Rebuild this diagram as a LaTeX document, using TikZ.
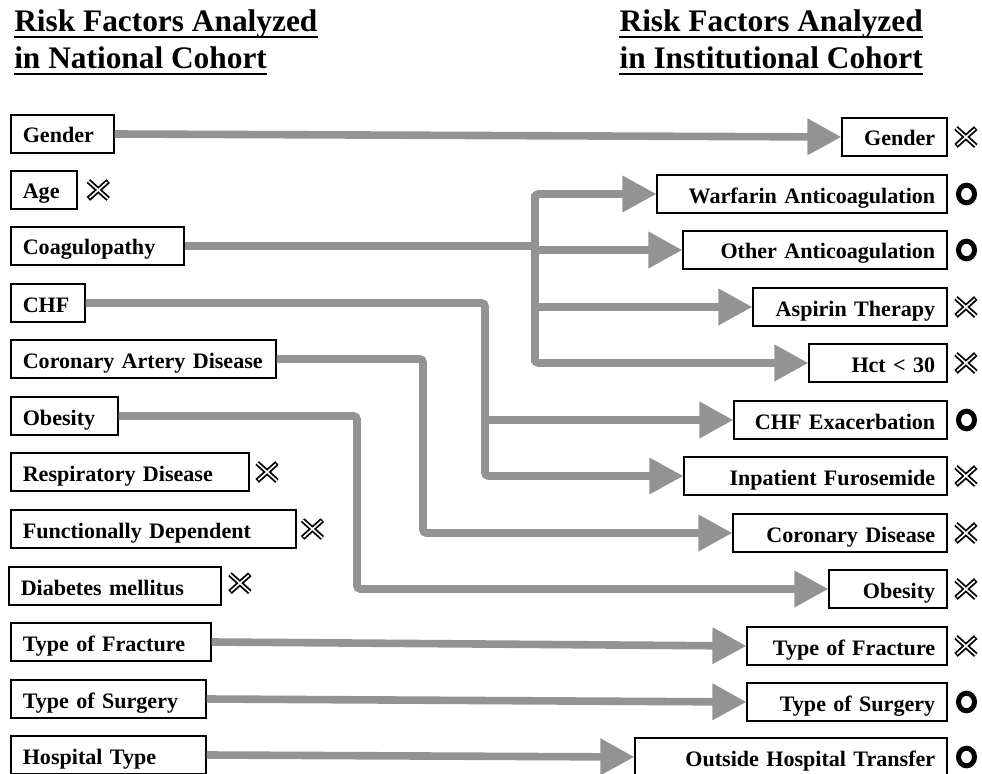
\documentclass[tikz,border=0pt]{standalone}
\usepackage{fontspec}
\setmainfont{Liberation Serif}
\usepackage{tikz}
\usetikzlibrary{
  positioning,
  calc,
  arrows.meta,
  shapes.geometric
}
\definecolor{lineGray}{HTML}{939393}
\tikzstyle{box}=[draw, line width=0.04cm, inner xsep=0.3cm, inner ysep=0pt, minimum height=0.95cm, text height=0.5cm, text depth=0.05cm, font=\bfseries\fontsize{15.7}{18}\selectfont]
\tikzset{
  lbox/.style={box, anchor=west, align=left, text width={(#1-24)*0.025cm}},
  rbox/.style={box, anchor=east, align=right, text width={(#1-24)*0.025cm}}
}
\tikzstyle{title}=[inner sep=0pt, font=\bfseries\fontsize{22.3}{26}\selectfont]
\tikzstyle{uline}=[line width=0.06cm]
\tikzstyle{conn}=[lineGray, line width=0.19cm, rounded corners=0.08cm, -{Triangle[length=0.85cm, width=0.87cm]}]
\tikzstyle{trunk}=[lineGray, line width=0.19cm]
\tikzstyle{xbox}=[inner sep=0pt, minimum width=0.48cm, minimum height=0.43cm]
\tikzstyle{ring}=[ellipse, draw, line width=0.125cm, inner sep=0pt, minimum width=0.4cm, minimum height=0.44cm]

\begin{document}
\begin{tikzpicture}[x=0.025cm, y=-0.025cm]
      % ×印
      \def\crossmark#1{%
        \draw[line width=0.13cm] (#1.north west) -- (#1.south east) (#1.north east) -- (#1.south west);%
        \draw[white, line width=0.04cm, shorten >=0.035cm, shorten <=0.035cm] (#1.north west) -- (#1.south east) (#1.north east) -- (#1.south west);%
      }

      \useasboundingbox (0,0) rectangle (982,774);
      \clip (0,0) rectangle (982,774);

      % 見出し
      \node[title, anchor=base west] (H1) at (14,32) {Risk Factors Analyzed};
      \node[title, anchor=base west] (H2) at (14,69) {in National Cohort};
      \node[title, anchor=base east] (H3) at (923,32) {Risk Factors Analyzed};
      \node[title, anchor=base east] (H4) at (923,69) {in Institutional Cohort};
      \foreach \h in {H1,H2,H3,H4}
        \draw[uline] ($(\h.base west)+(0,5)$) -- ($(\h.base east)+(0,5)$);

      % 左側の箱
      \node[lbox=103] (L1) at (10,134) {Gender};
      \node[lbox=66] (L2) at (10,190) {Age};
      \node[lbox=173] (L3) at (10,246) {Coagulopathy};
      \node[lbox=74] (L4) at (10,303) {CHF};
      \node[lbox=265] (L5) at (10,359) {Coronary Artery Disease};
      \node[lbox=107] (L6) at (10,416) {Obesity};
      \node[lbox=238] (L7) at (10,472) {Respiratory Disease};
      \node[lbox=285] (L8) at (10,529) {Functionally Dependent};
      \node[lbox=212] (L9) at (8,586) {Diabetes mellitus};
      \node[lbox=200] (L10) at (10,642) {Type of Fracture};
      \node[lbox=195] (L11) at (10,699) {Type of Surgery};
      \node[lbox=195] (L12) at (10,755) {Hospital Type};

      % 右側の箱
      \node[rbox=105] (R1) at (948,137) {Gender};
      \node[rbox=290] (R2) at (948,194) {Warfarin Anticoagulation};
      \node[rbox=264] (R3) at (948,250) {Other Anticoagulation};
      \node[rbox=194] (R4) at (948,307) {Aspirin Therapy};
      \node[rbox=138] (R5) at (948,363) {Hct < 30};
      \node[rbox=213] (R6) at (948,420) {CHF Exacerbation};
      \node[rbox=263] (R7) at (948,476) {Inpatient Furosemide};
      \node[rbox=214] (R8) at (948,533) {Coronary Disease};
      \node[rbox=118] (R9) at (948,589) {Obesity};
      \node[rbox=200] (R10) at (948,646) {Type of Fracture};
      \node[rbox=200] (R11) at (948,702) {Type of Surgery};
      \node[rbox=312] (R12) at (948,757) {Outside Hospital Transfer};

      % 縦線の位置
      \coordinate (T1) at (535,0);
      \coordinate (T2) at (485,0);
      \coordinate (T3) at (423,0);
      \coordinate (T4) at (357,0);

      % 矢印
      \draw[conn] (L1.east) -- (R1.west);
      \draw[trunk] (L3.east) -- (L3.east -| T1);
      \draw[conn] (R5.west -| T1) |- (R2.west);
      \draw[conn] (R2.west -| T1) |- (R5.west);
      \draw[conn] (R3.west -| T1) -- (R3.west);
      \draw[conn] (R4.west -| T1) -- (R4.west);
      \draw[conn] (L4.east) -- (L4.east -| T2) |- (R7.west);
      \draw[conn] (R6.west -| T2) -- (R6.west);
      \draw[conn] (L5.east) -- (L5.east -| T3) |- (R8.west);
      \draw[conn] (L6.east) -- (L6.east -| T4) |- (R9.west);
      \draw[conn] (L10.east) -- (R10.west);
      \draw[conn] (L11.east) -- (R11.west);
      \draw[conn] (L12.east) -- (R12.west);

      % 左側の×印
      \node[xbox, right=0.27cm of L2] (M1) {};
      \node[xbox, right=0.19cm of L7] (M2) {};
      \node[xbox, right=0.15cm of L8] (M3) {};
      \node[xbox, right=0.21cm of L9, yshift=0.07cm] (M4) {};
      \foreach \m in {M1,M2,M3,M4}
        \crossmark{\m};

      % 右側の印
      \node[xbox, right=0.2cm of R1] (N1) {};
      \node[ring, right=0.2cm of R2] (N2) {};
      \node[ring, right=0.2cm of R3] (N3) {};
      \node[xbox, right=0.2cm of R4] (N4) {};
      \node[xbox, right=0.2cm of R5] (N5) {};
      \node[ring, right=0.2cm of R6] (N6) {};
      \node[xbox, right=0.2cm of R7] (N7) {};
      \node[xbox, right=0.2cm of R8] (N8) {};
      \node[xbox, right=0.2cm of R9] (N9) {};
      \node[xbox, right=0.2cm of R10] (N10) {};
      \node[ring, right=0.2cm of R11] (N11) {};
      \node[ring, right=0.2cm of R12] (N12) {};
      \foreach \m in {N1,N4,N5,N7,N8,N9,N10}
        \crossmark{\m};
\end{tikzpicture}
\end{document}
